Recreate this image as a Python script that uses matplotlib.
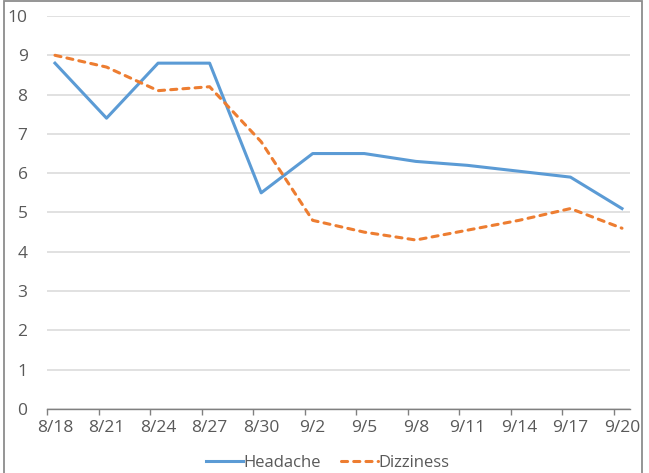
import matplotlib
matplotlib.use('Agg')
import matplotlib.pyplot as plt
from matplotlib.patches import Rectangle
from matplotlib.ticker import FixedLocator, NullFormatter

plt.rcParams['font.family'] = ['Open Sans', 'DejaVu Sans']

dates = ['8/18', '8/21', '8/24', '8/27', '8/30', '9/2', '9/5', '9/8', '9/11', '9/14', '9/17', '9/20']
headache = [8.8, 7.4, 8.8, 8.8, 5.5, 6.5, 6.5, 6.3, 6.2, 6.05, 5.9, 5.1]
dizziness = [9.0, 8.7, 8.1, 8.2, 6.8, 4.8, 4.5, 4.3, 4.55, 4.8, 5.1, 4.6]

BLUE = '#5B9BD5'; ORANGE = '#ED7D31'; GRID = '#D9D9D9'; TXT = '#595959'

fig = plt.figure(figsize=(6.49, 4.73), dpi=100)
ax = fig.add_axes([0.0724, 0.1353, 0.8983, 0.8309])
x = list(range(len(dates)))
ax.plot(x, headache, color=BLUE, lw=2.2, label='Headache')
ax.plot(x, dizziness, color=ORANGE, lw=2.2, ls=(0, (2.0, 2.0)), label='Dizziness',
        dash_capstyle='round')

ax.set_ylim(0, 10)
ax.set_xlim(-0.155, len(dates) - 1 + 0.155)
ax.set_yticks(range(0, 11))
ax.yaxis.grid(True, color=GRID, lw=1.1)
ax.set_axisbelow(True)
for s in ['top', 'right', 'left']:
    ax.spines[s].set_visible(False)
ax.spines['bottom'].set_color('#808080')
ax.spines['bottom'].set_linewidth(1.0)
ax.tick_params(axis='y', length=0, pad=14, labelsize=12.5, labelcolor=TXT)

ax.set_xticks(x)
ax.set_xticklabels(dates)
ax.tick_params(axis='x', which='major', length=0, pad=8, labelsize=12.5, labelcolor=TXT)
ax.xaxis.set_minor_locator(FixedLocator([i - 0.155 for i in x]))
ax.xaxis.set_minor_formatter(NullFormatter())
ax.tick_params(axis='x', which='minor', length=4, width=1.0, color='#808080', direction='out')

leg = ax.legend(loc='upper center', bbox_to_anchor=(0.482, -0.088), ncol=2, frameon=False,
                fontsize=12, handlelength=2.2, handletextpad=0.05, columnspacing=1.2,
                borderpad=0.2)
for t in leg.get_texts():
    t.set_color(TXT)

fig.patches.append(Rectangle((4 / 649, -0.05), (642 - 4) / 649, 1 - 1 / 473 + 0.05,
                             transform=fig.transFigure, fill=False, ec='#8C8C8C', lw=1.3))

fig.savefig('out.png', dpi=100)
